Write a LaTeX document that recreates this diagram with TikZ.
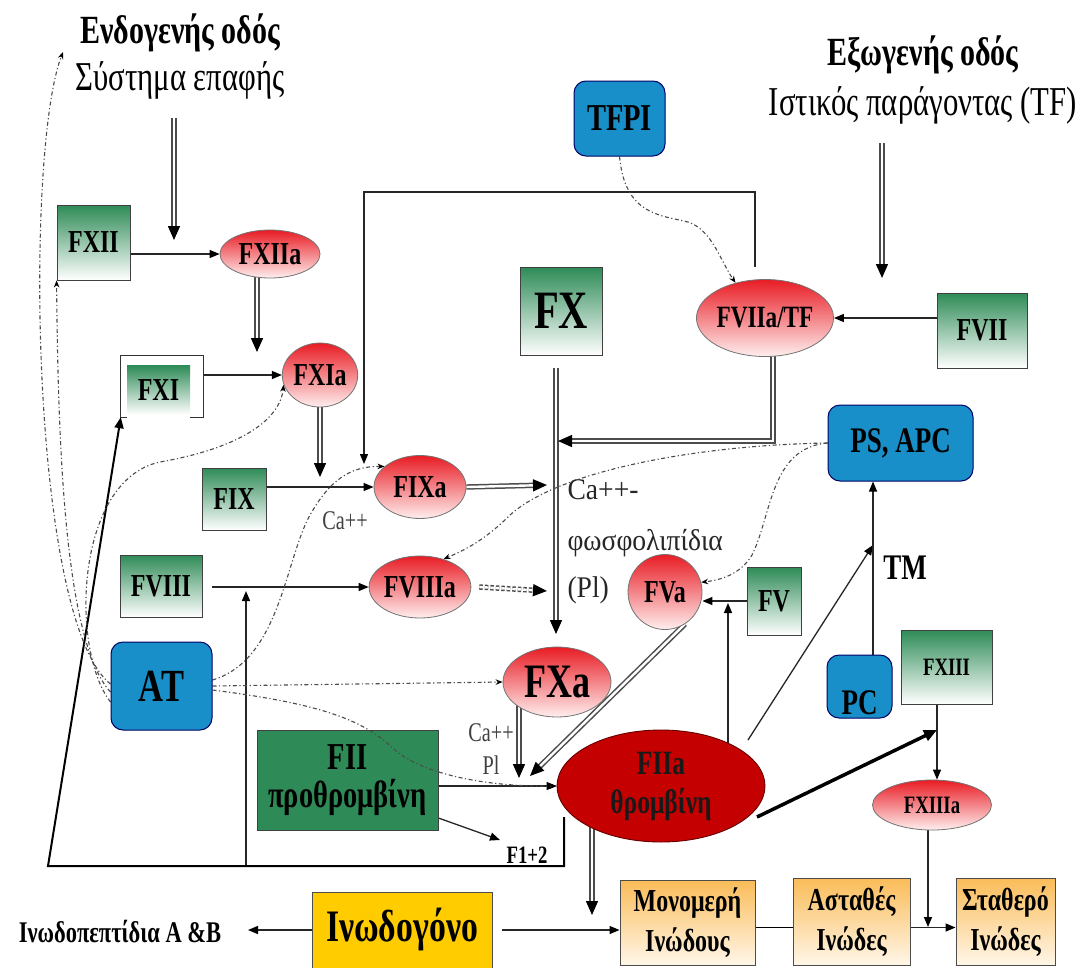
\documentclass[tikz,border=0pt]{standalone}
\usepackage{fontspec}
\setmainfont{Liberation Serif}
\newfontfamily\lbl[FakeStretch=0.75]{Liberation Serif}
\newfontfamily\lblwide[FakeStretch=0.92]{Liberation Serif}
\usetikzlibrary{arrows.meta,shapes.geometric,calc}

\definecolor{gtop}{RGB}{46,139,87}
\definecolor{rtop}{RGB}{232,28,36}
\definecolor{rbot}{RGB}{255,238,238}
\definecolor{bluebox}{RGB}{24,143,200}
\definecolor{thrombin}{RGB}{196,0,0}
\definecolor{fibyel}{RGB}{255,204,0}
\definecolor{otop}{RGB}{250,188,88}
\definecolor{obot}{RGB}{255,246,232}

\newcommand{\setfs}[2]{\fontsize{#1}{#2}\selectfont}

\pgfdeclarelayer{paper}
\pgfdeclarelayer{links}
\pgfsetlayers{paper,links,main}

\begin{document}
\begin{tikzpicture}[x=1pt,y=-1pt,
  sz/.style 2 args={minimum width=#1pt, minimum height=#2pt, inner sep=0pt},
  lab/.style={font=\lbl\bfseries\setfs{#1}{#1}},
  gbox/.style={rectangle, draw=black!75, line width=0.9pt, top color=gtop, bottom color=white},
  rell/.style={ellipse, draw=black!55, line width=0.8pt, top color=rtop, bottom color=rbot},
  bbox/.style={rectangle, rounded corners=12pt, draw=black!60!blue, line width=1pt, fill=bluebox},
  obox/.style={rectangle, draw=black!70, line width=0.9pt, top color=otop, bottom color=obot},
  arr/.style={line width=1.3pt, draw=black!85, -{Triangle[length=10pt,width=8pt,color=black]}},
  dbl/.style={draw=black!70, double=white, double distance=2.4pt, line width=1.5pt,
              -{Triangle[length=14pt,width=12pt,color=black]}},
  dbldash/.style={dbl, dash pattern=on 3.5pt off 2pt},
  dd/.style={draw=black!70, line width=1.1pt, dash pattern=on 4pt off 2.5pt on 1.2pt off 2.5pt,
             -{Stealth[length=7pt,width=5.5pt,color=black]}},
  arrbig/.style={line width=3.5pt, -{Triangle[length=13pt,width=11pt]}}
]
\begin{pgfonlayer}{paper}
  \fill[white] (0,0) rectangle (1079,967);
\end{pgfonlayer}
\useasboundingbox (0,0) rectangle (1079,967);

% ---------- headings ----------
\node[lab=40] (endoA) at (180,33) {Ενδογενής οδός};
\node[font=\lbl\setfs{41}{41}] (endoB) at (180,80) {Σύστημα επαφής};
\node[lab=40] (exoA) at (923,55) {Εξωγενής οδός};
\node[font=\lbl\setfs{41}{41}] (exoB) at (923,105) {Ιστικός παράγοντας (TF)};

% ---------- intrinsic branch ----------
\node[gbox, sz={73}{75}, lab=32] (FXII) at (93.5,242.5) {FXII};
\node[rell, sz={100}{48}, lab=32] (FXIIa) at (270,254) {FXIIa};
\node[sz={82}{61}] (FXIf) at (162,386.5) {};
\node[rectangle, top color=gtop, bottom color=white, sz={63}{49}, lab=32] (FXI) at (158.5,390) {FXI};
\node[rell, sz={74}{64}, lab=32] (FXIa) at (320,375) {FXIa};
\node[gbox, sz={64}{62}, lab=32] (FIX) at (234,499) {FIX};
\node[rell, sz={92}{63}, lab=32] (FIXa) at (420,487) {FIXa};
\node[gbox, sz={82}{62}, lab=32] (FVIII) at (161,586) {FVIII};
\node[rell, sz={92}{62}, lab=32] (FVIIIa) at (420,587) {FVIIIa};

% ---------- extrinsic branch ----------
\node[bbox, sz={91}{75}, lab=38] (TFPI) at (619.5,118.5) {TFPI};
\node[gbox, sz={82}{88}, lab=54] (FX) at (561,311) {FX};
\node[rell, sz={126}{77}, lab=31] (FVIIaTF) at (765,318) {FVIIa/TF};
\node[gbox, sz={90}{75}, lab=32] (FVII) at (982,330.5) {FVII};
\node[bbox, sz={145}{76}, lab=36] (PSAPC) at (900.5,443) {PS, APC};

% ---------- common pathway ----------
\node[rell, sz={74}{75}, lab=32] (FVa) at (665,592) {FVa};
\node[gbox, sz={54}{68}, lab=32] (FV) at (774,601) {FV};
\node[bbox, sz={101}{88}, lab=46] (AT) at (161.5,686) {AT};
\node[rell, sz={108}{70}, lab=48] (FXa) at (557,682) {FXa};
\node[rectangle, draw=black!75, line width=0.9pt, fill=gtop, sz={181}{100},
      align=center, font=\lbl\bfseries\setfs{38}{38}] (FII) at (347.5,780) {FII\\προθρομβίνη};
\node[ellipse, draw=black!60!red, line width=0.9pt, fill=thrombin, sz={208}{112},
      align=center, text=black!90, font=\lbl\bfseries\setfs{34}{39}] (FIIa) at (661,786) {FIIa\\θρομβίνη};
\node[bbox, sz={65}{63}] (PC) at (859.5,686.5) {};
\node[lab=36, anchor=south] (PCtxt) at (859.5,718) {PC};
\node[gbox, sz={91}{74}, lab=25] (FXIII) at (946.5,667) {FXIII};
\node[rell, sz={119}{50}, lab=25] (FXIIIa) at (932,805) {FXIIIa};

% ---------- fibrin ----------
\node[rectangle, draw=black!70, line width=0.9pt, fill=fibyel, sz={180}{76}, lab=45] (Fib) at (402,930) {Ινωδογόνο};
\node[lab=30] (Pep) at (120,932) {Ινωδοπεπτίδια A \&B};
\node[obox, sz={135}{85}, align=center, font=\lbl\bfseries\setfs{32}{40}] (Mono) at (687.5,922.5) {Μονομερή\\Ινώδους};
\node[obox, sz={117}{87}, align=center, font=\lbl\bfseries\setfs{32}{40}] (Asta) at (851.5,921.5) {Ασταθές\\Ινώδες};
\node[obox, sz={99}{87}, align=center, font=\lbl\bfseries\setfs{32}{40}] (Stath) at (1005.5,921.5) {Σταθερό\\Ινώδες};

% ---------- small labels ----------
\node[font=\lbl\setfs{27}{27}, text=black!75] (caA) at (345,521) {Ca++};
\node[font=\lbl\setfs{27}{27}, text=black!75] (caB) at (491,733) {Ca++};
\node[font=\lbl\setfs{27}{27}, text=black!75] (plB) at (491,765) {Pl};
\node[font=\lblwide\setfs{30}{30}, text=black!85, anchor=west] (caC) at (564,490) {Ca++-};
\node[font=\lblwide\setfs{30}{30}, text=black!85, anchor=west] (phos) at (564,543) {φωσφολιπίδια};
\node[font=\lblwide\setfs{30}{30}, text=black!85, anchor=west] (plC) at (564,590) {(Pl)};
\node[lab=25] (F12) at (527,855) {F1+2};
\node[lab=36] (TM) at (905,568) {TM};

% ---------- junction points ----------
\coordinate (csTop) at (174,118);  \coordinate (csBot) at (174,240);
\coordinate (tfTop) at (882,143);  \coordinate (tfBot) at (882,278);
\coordinate (xiIn) at (257,352);   \coordinate (ixIn) at (320,477);
\coordinate (xIn1) at (547,485);   \coordinate (xIn2) at (547,591);
\coordinate (loopA) at (755,267);  \coordinate (loopB) at (755,192);
\coordinate (loopC) at (364,192);  \coordinate (loopD) at (364,464);
\coordinate (xTop) at (556,368);   \coordinate (xaIn) at (556,634);
\coordinate (viiCorner) at (773,441); \coordinate (xSide) at (558,441);
\coordinate (viiiJoin) at (246,591); \coordinate (frameMid) at (246,866);
\coordinate (vJoin) at (728,603);
\coordinate (iiJoin1) at (519,778); \coordinate (iiJoin2) at (530,776);
\coordinate (f12In) at (500,840);
\coordinate (frameStart) at (564,817); \coordinate (frameEnd) at (564,866);
\coordinate (frameLeft) at (48,866);
\coordinate (tmJoin) at (873,545);
\coordinate (xiiiJoin) at (937,730);
\coordinate (stJoin) at (928,927);
\coordinate (monoIn) at (592,915);
\coordinate (pepIn) at (248,930);
\coordinate (endoTip) at (63,52);

% ---------- connectors under the nodes ----------
\begin{pgfonlayer}{links}
  \draw[dbl] (csTop) -- (csBot);
  \draw[dbl] (tfTop) -- (tfBot);
  \draw[arr] (FXII.east |- FXIIa.west) -- (FXIIa.west);
  \draw[dbl] (FXIIa.center -| xiIn) -- (xiIn);
  \draw[arr] (FXIf.east |- FXIa.west) -- (FXIa.west);
  \draw[dbl] (FXIa.center) -- (ixIn);
  \draw[arr] (FIX.east |- FIXa.west) -- (FIXa.west);
  \draw[dbl] (FIXa.east) -- (xIn1);
  \draw[arr] (loopA) -- (loopB) -- (loopC) -- (loopD);
  \draw[dbl] (xTop) -- (xaIn);
  \draw[dbl] (FVIIaTF.center -| viiCorner) -- (viiCorner) -- (xSide);
  \draw[arr] (FVII.west |- FVIIaTF.east) -- (FVIIaTF.east);
  \draw[arr] ([xshift=10pt]FVIII.east |- FVIIIa.west) -- (FVIIIa.west);
  \draw[arr] (frameMid) -- (viiiJoin);
  \draw[dbldash] ([xshift=8pt]FVIIIa.east) -- (xIn2);
  \draw[arr] (FV.west) -- (FV.west -| FVa.east);
  \draw[arr] (FIIa.center -| vJoin) -- (vJoin);
  \draw[dbl] (FVa.-58) -- (iiJoin2);
  \draw[dbl] (FXa.center -| iiJoin1) -- (iiJoin1);
  \draw[arr] (FII.east |- FIIa.west) -- (FIIa.west);
  \draw[arr] ([yshift=-38pt]FII.east) -- (f12In);
  \draw[line width=2pt, -{Triangle[length=11pt,width=9pt]}]
       (frameStart) -- (frameEnd) -- (frameLeft) -- (FXIf.south west);
  \draw[arr] ([shift={(87,-46)}]FIIa.center) -- (tmJoin);
  \draw[arr] (PC.north -| tmJoin) -- (PSAPC.south -| tmJoin);
  \draw[arrbig] ([shift={(96,31)}]FIIa.center) -- (xiiiJoin);
  \draw[arr] (FXIII.south -| xiiiJoin) -- (FXIIIa.north -| xiiiJoin);
  \draw[arr] (FXIIIa.south -| stJoin) -- (stJoin);
  \draw[dbl] (FIIa.center -| monoIn) -- (monoIn);
  \draw[arr] ([xshift=10pt]Fib.east) -- (Mono.west |- Fib.east);
  \draw[arr] (Fib.west) -- (pepIn);
  \draw[line width=1.3pt] ([yshift=-5pt]Mono.east) -- ([yshift=-5pt]Mono.east -| Asta.west);
  \draw[arr] ([yshift=-6pt]Asta.east) -- ([yshift=-6pt]Asta.east -| Stath.west);

  % inhibitor paths
  \draw[dd] ([yshift=2pt]AT.west) .. controls (30,620) and (25,150) .. (endoTip);
  \draw[dd] ([yshift=-6pt]AT.west) .. controls (62,640) and (58,420) .. (FXII.south west);
  \draw[dd] ([yshift=-16pt]AT.west) .. controls (70,650) and (75,480) .. (160,462)
            .. controls (240,448) and (280,420) .. (FXIa.195);
  \draw[dd] ([yshift=6pt]AT.east) .. controls (280,660) and (285,560) .. (310,515)
            .. controls (330,480) and (350,466) .. (FIXa.150);
  \draw[dd] (AT.east) -- (FXa.west);
  \draw[dd] (TFPI.south) .. controls (625,215) and (660,215) .. (688,222)
            .. controls (712,230) and (720,260) .. (FVIIaTF.130);
  \draw[dd] (PSAPC.west) .. controls (700,445) and (560,470) .. (510,515)
            .. controls (485,540) and (465,550) .. (FVIIIa.50);
  \draw[dd] (PSAPC.west) .. controls (770,448) and (772,515) .. (752,555)
            .. controls (740,575) and (720,580) .. (FVa.15);
\end{pgfonlayer}

% FXI holder frame, open along its lower edge
\draw[line width=1pt, draw=black!80]
  ([xshift=6pt]FXIf.south west) -- (FXIf.south west) -- (FXIf.north west)
  -- (FXIf.north east) -- (FXIf.south east) -- ([xshift=-13pt]FXIf.south east);

% antithrombin on thrombin, crossing the prothrombin box
\draw[dd] ([yshift=-4pt]AT.east) .. controls (330,705) and (365,722) .. (395,750)
          .. controls (420,772) and (480,787) .. (FIIa.west);
\end{tikzpicture}
\end{document}
